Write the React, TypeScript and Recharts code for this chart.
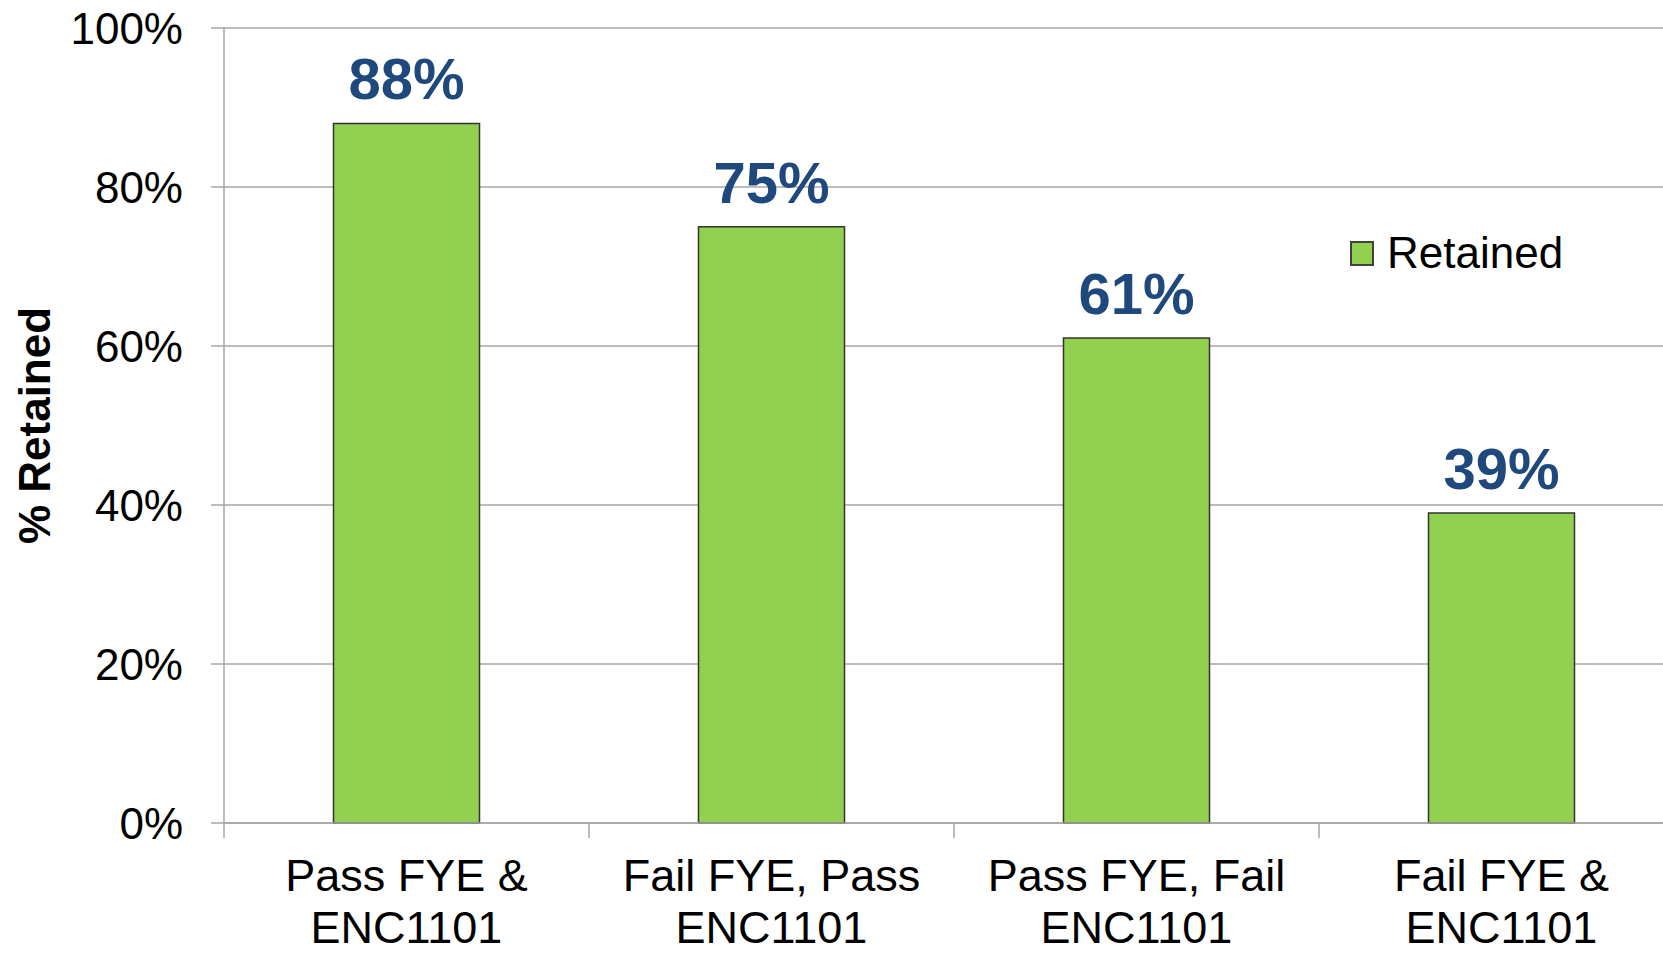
import { BarChart, Bar, XAxis, YAxis, CartesianGrid, Legend, LabelList } from 'recharts';

const categories = ['Pass FYE & ENC1101', 'Fail FYE, Pass ENC1101', 'Pass FYE, Fail ENC1101', 'Fail FYE & ENC1101'];
const categoryLines = [
  ['Pass FYE &', 'ENC1101'],
  ['Fail FYE, Pass', 'ENC1101'],
  ['Pass FYE, Fail', 'ENC1101'],
  ['Fail FYE &', 'ENC1101'],
];
const retained = [88, 75, 61, 39];
const yTicks = [0, 20, 40, 60, 80, 100];

const data = categories.map((name, i) => ({ name, retained: retained[i] }));

const FONT = '"Liberation Sans", Arial, sans-serif';
const GREEN = '#92D050';
const GRID = '#a6a6a6';

function CategoryTick(props: any) {
  const { x, y, payload, index } = props;
  const half = payload && payload.offset ? payload.offset : 182;
  const lines = categoryLines[index] || [payload.value];
  return (
    <g>
      <line x1={x - half} x2={x - half} y1={y} y2={y + 15} stroke={GRID} strokeWidth={1.5} />
      <text x={x} y={y + 68} textAnchor="middle" fontSize={45} fill="#000" fontFamily={FONT}>
        {lines.map((l: string, i: number) => (
          <tspan key={i} x={x} dy={i === 0 ? 0 : 52}>{l}</tspan>
        ))}
      </text>
    </g>
  );
}

function YTitle(props: any) {
  const vb = props.viewBox || { x: 0, y: 28, width: 224, height: 795 };
  const cx = vb.x + 34;
  const cy = vb.y + vb.height / 2;
  return (
    <text
      x={cx}
      y={cy}
      transform={`rotate(-90, ${cx}, ${cy})`}
      textAnchor="middle"
      dominantBaseline="central"
      fontSize={44}
      fontWeight="bold"
      fill="#000"
      fontFamily={FONT}
    >
      % Retained
    </text>
  );
}

function LegendBox() {
  return (
    <div style={{ display: 'flex', alignItems: 'center', fontFamily: FONT, fontSize: 44, color: '#000' }}>
      <span style={{ display: 'inline-block', width: 20, height: 21, background: GREEN, border: '2px solid #404040', marginRight: 13 }} />
      <span>Retained</span>
    </div>
  );
}

export default function App() {
  return (
    <div style={{ position: 'absolute', left: 0, top: 0, width: 1663, height: 954, overflow: 'hidden', background: '#fff' }}>
      <BarChart
        width={1684}
        height={954}
        data={data}
        margin={{ top: 28, right: 0, left: 0, bottom: 0 }}
        barCategoryGap="30%"
      >
        <CartesianGrid vertical={false} stroke={GRID} strokeWidth={1.5} />
        <XAxis
          dataKey="name"
          height={131}
          tick={<CategoryTick />}
          tickLine={false}
          tickSize={0}
          tickMargin={0}
          interval={0}
          stroke={GRID}
          strokeWidth={1.5}
        />
        <YAxis
          width={224}
          domain={[0, 100]}
          ticks={yTicks}
          tickFormatter={(v) => `${v}%`}
          tick={{ fontSize: 44, fill: '#000', fontFamily: FONT }}
          tickSize={13}
          tickMargin={28}
          stroke={GRID}
          strokeWidth={1.5}
          label={<YTitle />}
        />
        <Legend
          layout="horizontal"
          verticalAlign="middle"
          align="center"
          content={<LegendBox />}
          wrapperStyle={{ position: 'absolute', left: 1350, top: 228, width: 'auto', height: 'auto' }}
        />
        <Bar dataKey="retained" name="Retained" fill={GREEN} stroke="#333" strokeWidth={1.5} isAnimationActive={false}>
          <LabelList
            dataKey="retained"
            position="top"
            offset={24}
            formatter={(v: any) => `${v}%`}
            style={{ fontSize: 58, fontWeight: 'bold', fill: '#1F497D', fontFamily: FONT }}
          />
        </Bar>
      </BarChart>
    </div>
  );
}
